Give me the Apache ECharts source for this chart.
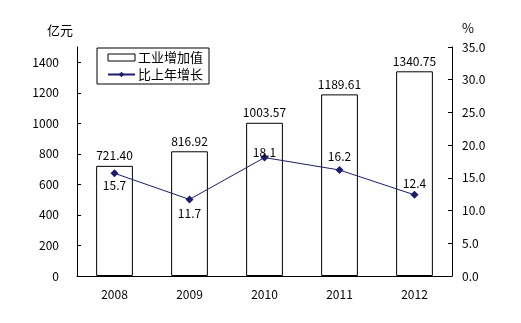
<!DOCTYPE html>
<html><head><meta charset="utf-8">
<script src="https://cdn.jsdelivr.net/npm/echarts@6/dist/echarts.min.js"></script>
<style>html,body{margin:0;padding:0;background:#fff}#c{width:521px;height:323px}</style>
</head><body><div id="c"></div>
<script>
const categories = ['2008','2009','2010','2011','2012'];
const valueAdded = [721.40, 816.92, 1003.57, 1189.61, 1340.75];
const growth = [15.7, 11.7, 18.1, 16.2, 12.4];
const growthLabelPos = ['bottom','bottom','top','top','top'];
const growthLabelDist = [2, 4, -5, 4, 1];
const leftTicks = [0,200,400,600,800,1000,1200,1400];
const rightTicks = ['0.0','5.0','10.0','15.0','20.0','25.0','30.0','35.0'];

const FONT = '"Noto Sans CJK SC", sans-serif';
const chart = echarts.init(document.getElementById('c'), null, {renderer:'canvas'});
chart.setOption({
  animation:false,
  backgroundColor:'#fff',
  textStyle:{fontFamily:FONT, color:'#000'},
  grid:{left:77, right:69, top:47, bottom:47},
  legend:{
    left:97, top:48, width:114, orient:'vertical',
    padding:[3,6,3,10], itemGap:4,
    borderColor:'#000', borderWidth:1,
    itemWidth:27, itemHeight:7,
    textStyle:{fontSize:13, color:'#000', fontFamily:FONT, padding:[0,0,0,-2]},
    data:[{name:'工业增加值', icon:'rect', itemStyle:{color:'#fff', borderColor:'#000', borderWidth:1}},
          {name:'比上年增长'}]
  },
  xAxis:{
    type:'category', data:categories, boundaryGap:true,
    axisLine:{lineStyle:{color:'#000', width:1}},
    axisTick:{inside:true, length:3, lineStyle:{color:'#000'}},
    axisLabel:{color:'#000', fontSize:12, margin:12, fontFamily:FONT}
  },
  yAxis:[{
    type:'value', min:0, max:1500, interval:200,
    name:'亿元', nameLocation:'end', nameGap:10,
    nameTextStyle:{color:'#000', fontSize:13, align:'right', padding:[0,4,0,0]},
    axisLine:{show:true, lineStyle:{color:'#000'}},
    axisTick:{show:true, inside:true, length:4, lineStyle:{color:'#000'}},
    splitLine:{show:false},
    axisLabel:{color:'#000', fontSize:12, margin:18, showMaxLabel:false,
      formatter:v=> leftTicks.indexOf(v)>=0 ? String(v) : ''}
  },{
    type:'value', min:0, max:35, interval:5, position:'right',
    name:'%', nameLocation:'end', nameGap:12,
    nameTextStyle:{color:'#000', fontSize:13, align:'left', padding:[0,0,0,10]},
    axisLine:{show:true, lineStyle:{color:'#000'}},
    axisTick:{show:true, inside:true, length:4, lineStyle:{color:'#000'}},
    splitLine:{show:false},
    axisLabel:{color:'#000', fontSize:12, margin:10,
      formatter:v=> rightTicks[Math.round(v/5)]}
  }],
  series:[{
    name:'工业增加值', type:'bar', yAxisIndex:0, data:valueAdded, barWidth:'49%',
    itemStyle:{color:'#fff', borderColor:'#000', borderWidth:1},
    label:{show:true, position:'top', distance:4, color:'#000', fontSize:12,
      formatter:p=>p.value.toFixed(2)}
  },{
    name:'比上年增长', type:'line', yAxisIndex:1,
    data:growth.map((v,i)=>({value:v, label:{position:growthLabelPos[i], distance:growthLabelDist[i]}})),
    symbol:'diamond', symbolSize:8,
    lineStyle:{color:'#1c1c6e', width:1},
    itemStyle:{color:'#1c1c6e'},
    label:{show:true, color:'#000', fontSize:12,
      formatter:p=>p.value.toFixed(1)}
  }]
});
</script></body></html>
